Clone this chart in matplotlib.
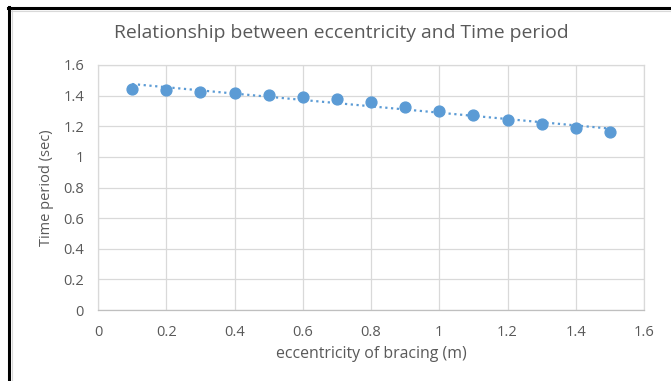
import numpy as np
import matplotlib
matplotlib.use("Agg")
import matplotlib.pyplot as plt
from matplotlib.lines import Line2D

plt.rcParams['font.family'] = ['Open Sans', 'DejaVu Sans']

eccentricity = [0.1, 0.2, 0.3, 0.4, 0.5, 0.6, 0.7, 0.8, 0.9, 1.0, 1.1, 1.2, 1.3, 1.4, 1.5]
time_period = [1.441, 1.435, 1.426, 1.415, 1.406, 1.391, 1.376, 1.356, 1.328, 1.302,
               1.274, 1.243, 1.213, 1.187, 1.161]
x_ticks = [0, 0.2, 0.4, 0.6, 0.8, 1, 1.2, 1.4, 1.6]
y_ticks = [0, 0.2, 0.4, 0.6, 0.8, 1, 1.2, 1.4, 1.6]

blue = '#5B9BD5'
grid = '#d9d9d9'
txt = '#595959'

fig = plt.figure(figsize=(6.71, 3.81), dpi=100)
ax = fig.add_axes([98/671, 1-310/381, (644-98)/671, (310-65)/381])

ax.plot(eccentricity, time_period, 'o', color=blue, markersize=7.8, zorder=3)
coef = np.polyfit(eccentricity, time_period, 1)
xs = np.array([eccentricity[0], eccentricity[-1]])
ax.plot(xs, np.polyval(coef, xs), color=blue, lw=1.6, linestyle=(0, (1, 1.6)), zorder=2)

ax.set_xlim(0, 1.6)
ax.set_ylim(0, 1.6)
ax.set_xticks(x_ticks)
ax.set_yticks(y_ticks)
ax.set_xticklabels([f'{t:g}' for t in x_ticks])
ax.set_yticklabels([f'{t:g}' for t in y_ticks])
ax.grid(True, color=grid, lw=0.9)
ax.set_axisbelow(True)
for s in ax.spines.values():
    s.set_color(grid)
    s.set_linewidth(0.9)
ax.spines['bottom'].set_color('#bfbfbf')
ax.tick_params(length=0, labelsize=10.5, labelcolor=txt)
ax.tick_params(axis='x', pad=11)
ax.tick_params(axis='y', pad=10)

ax.set_xlabel('eccentricity of bracing (m)', fontsize=11.4, color=txt, va='center', ha='center')
ax.xaxis.set_label_coords(0.5, (310-354)/245)
ax.set_ylabel('Time period (sec)', fontsize=10.5, color=txt, va='center', ha='center')
ax.yaxis.set_label_coords((46-98)/546, 0.5)
fig.text(341/671, 1-33/381, 'Relationship between eccentricity and Time period',
         ha='center', va='center', fontsize=13.9, color=txt)

# frame lines
fig.add_artist(Line2D([9/671, 9/671], [0, 1-7/381], color='black', lw=2.2, transform=fig.transFigure))
fig.add_artist(Line2D([8/671, 1], [1-8/381, 1-8/381], color='black', lw=2.2, transform=fig.transFigure))
fig.add_artist(Line2D([11.5/671, 11.5/671], [0, 1-10/381], color='#d9d9d9', lw=0.8, transform=fig.transFigure))
fig.add_artist(Line2D([11/671, 1], [1-10.5/381, 1-10.5/381], color='#d9d9d9', lw=0.8, transform=fig.transFigure))

fig.savefig('out.png', dpi=100)
